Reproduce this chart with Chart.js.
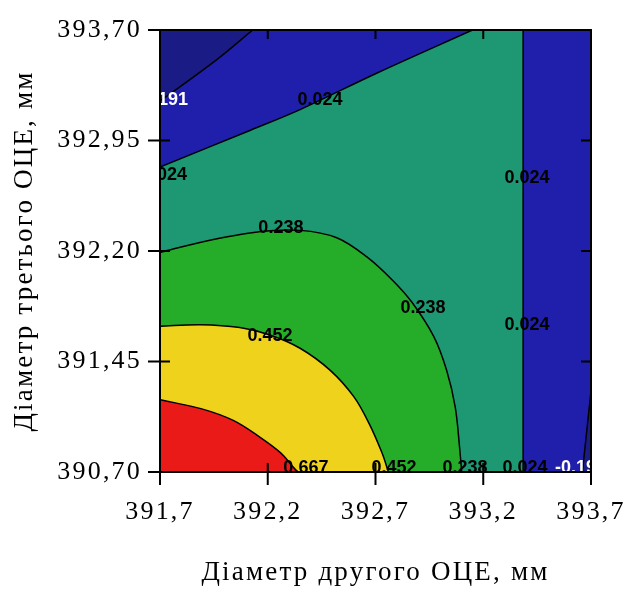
<!DOCTYPE html>
<html>
<head>
<meta charset="utf-8">
<title>Діаметр ОЦЕ</title>
<script src="https://cdn.jsdelivr.net/npm/chart.js@4.4.1/dist/chart.umd.min.js"></script>
<style>
    html, body { margin: 0; padding: 0; background: #fff; overflow: hidden; }
</style>
</head>
<body>
<canvas id="contourChart" width="637" height="592"></canvas>
<script>
const xTickValues = [391.7, 392.2, 392.7, 393.2, 393.7];
const xTickLabels = ["391,7", "392,2", "392,7", "393,2", "393,7"];
const yTickValues = [390.70, 391.45, 392.20, 392.95, 393.70];
const yTickLabels = ["390,70", "391,45", "392,20", "392,95", "393,70"];

// contour lines, [x, y] in mm
const lineM0191Top = [[391.70, 393.22], [391.76, 393.28], [391.965, 393.50], [392.13, 393.70]];
const line0024Top = [[391.70, 392.77], [392.12, 393.02], [392.35, 393.16], [392.71, 393.41], [393.15, 393.70]];
const line0024Right = [[393.385, 390.70], [393.385, 393.70], [393.70, 393.70]];
const lineM0191Corner = [[393.66, 390.70], [393.70, 391.25]];
const line0238 = [[391.70, 392.19], [391.89, 392.26], [392.16, 392.33], [392.35, 392.34], [392.52, 392.29],
    [392.66, 392.16], [392.78, 392.00], [392.87, 391.85], [392.97, 391.62], [393.03, 391.39],
    [393.07, 391.14], [393.09, 390.87], [393.10, 390.70]];
const line0452 = [[391.70, 391.69], [391.89, 391.70], [392.07, 391.68], [392.21, 391.63], [392.35, 391.54],
    [392.49, 391.39], [392.60, 391.21], [392.67, 391.03], [392.73, 390.83], [392.76, 390.70]];
const line0667 = [[391.70, 391.19], [391.89, 391.13], [392.04, 391.05], [392.16, 390.94],
    [392.26, 390.83], [392.32, 390.73], [392.34, 390.70]];

// level labels: text, x, y
const contourLabels = [
    ["-0.191", 391.712, 393.225],
    ["0.024", 392.442, 393.225],
    ["0.024", 391.721, 392.716],
    ["0.024", 393.403, 392.696],
    ["0.238", 392.261, 392.356],
    ["0.238", 392.920, 391.813],
    ["0.452", 392.210, 391.623],
    ["0.024", 393.403, 391.698],
    ["0.667", 392.377, 390.730],
    ["0.452", 392.786, 390.730],
    ["0.238", 393.115, 390.730],
    ["0.024", 393.394, 390.730],
    ["-0.191", 393.651, 390.730]
];

const colors = {
    dark: "#1b1b86",
    blue: "#1f1fab",
    teal: "#1d9872",
    green: "#25ad2a",
    yellow: "#efd21c",
    red: "#ea1a18"
};

function region(points, color, fill, order, tension = 0.35) {
    return {
        data: points.map(p => ({ x: p[0], y: p[1] })),
        backgroundColor: color,
        borderColor: "#000",
        borderWidth: 1.5,
        pointRadius: 0,
        fill: fill,
        order: order,
        tension: tension
    };
}

const serif = "'Liberation Serif', 'Times New Roman', serif";

const plotBackground = {
    id: "plotBackground",
    beforeDraw(chart) {
        chart.ctx.letterSpacing = "2.2px";
    },
    beforeDatasetsDraw(chart) {
        const { ctx, chartArea } = chart;
        ctx.save();
        ctx.fillStyle = colors.teal;
        ctx.fillRect(chartArea.left, chartArea.top, chartArea.width, chartArea.height);
        ctx.restore();
    }
};

const frameAndLabels = {
    id: "frameAndLabels",
    afterDatasetsDraw(chart) {
        const { ctx, chartArea, scales } = chart;
        const { left, right, top, bottom } = chartArea;

        // contour level labels
        ctx.save();
        ctx.beginPath();
        ctx.rect(left, top, right - left, bottom - top);
        ctx.clip();
        ctx.letterSpacing = "0px";
        ctx.font = "bold 18px 'Liberation Sans', Arial, sans-serif";
        ctx.textAlign = "center";
        ctx.textBaseline = "middle";
        contourLabels.forEach(([text, x, y]) => {
            ctx.fillStyle = text.startsWith("-") ? "#fff" : "#000";
            ctx.fillText(text, scales.x.getPixelForValue(x), scales.y.getPixelForValue(y));
        });
        ctx.restore();

        // frame with ticks on all four sides
        ctx.save();
        ctx.strokeStyle = "#000";
        ctx.lineWidth = 2;
        ctx.strokeRect(left, top, right - left, bottom - top);
        ctx.beginPath();
        xTickValues.forEach(v => {
            const px = scales.x.getPixelForValue(v);
            ctx.moveTo(px, bottom - 9);
            ctx.lineTo(px, bottom + 13);
            ctx.moveTo(px, top);
            ctx.lineTo(px, top + 9);
        });
        yTickValues.forEach(v => {
            const py = scales.y.getPixelForValue(v);
            ctx.moveTo(left - 12, py);
            ctx.lineTo(left + 10, py);
            ctx.moveTo(right - 10, py);
            ctx.lineTo(right, py);
        });
        ctx.stroke();
        ctx.restore();
    }
};

new Chart(document.getElementById("contourChart"), {
    type: "line",
    data: {
        datasets: [
            region(line0667, colors.red, "start", 0),
            region(line0452, colors.yellow, "start", 1),
            region(line0238, colors.green, "start", 2),
            region(lineM0191Top, colors.dark, "end", 3),
            region(line0024Top, colors.blue, "end", 4),
            region(lineM0191Corner, colors.dark, "start", 5, 0),
            region(line0024Right, colors.blue, "start", 6, 0)
        ]
    },
    options: {
        responsive: false,
        animation: false,
        layout: { padding: { top: 30, right: 46, bottom: 0, left: 0 } },
        plugins: {
            legend: { display: false },
            tooltip: { enabled: false }
        },
        scales: {
            x: {
                type: "linear",
                min: 391.7,
                max: 393.7,
                afterBuildTicks: scale => { scale.ticks = xTickValues.map(v => ({ value: v })); },
                afterFit: scale => {
                    scale.height = 120;
                    scale.paddingLeft = 0;
                    scale.paddingRight = 0;
                },
                ticks: {
                    callback: (value, index) => xTickLabels[index],
                    font: { family: serif, size: 26 },
                    color: "#000",
                    padding: 25,
                    maxRotation: 0,
                    autoSkip: false
                },
                grid: { display: false, drawTicks: false },
                border: { display: false },
                title: {
                    display: true,
                    text: "Діаметр другого ОЦЕ, мм",
                    font: { family: serif, size: 27 },
                    color: "#000",
                    padding: { top: 0, bottom: 3 }
                }
            },
            y: {
                type: "linear",
                min: 390.7,
                max: 393.7,
                afterBuildTicks: scale => { scale.ticks = yTickValues.map(v => ({ value: v })); },
                afterFit: scale => {
                    scale.width = 160;
                    scale.paddingTop = 0;
                    scale.paddingBottom = 0;
                },
                ticks: {
                    callback: (value, index) => yTickLabels[index],
                    font: { family: serif, size: 26 },
                    color: "#000",
                    padding: 18,
                    autoSkip: false
                },
                grid: { display: false, drawTicks: false },
                border: { display: false },
                title: {
                    display: true,
                    text: "Діаметр третього ОЦЕ, мм",
                    font: { family: serif, size: 27 },
                    color: "#000",
                    padding: { top: 9, bottom: 0 }
                }
            }
        }
    },
    plugins: [plotBackground, frameAndLabels]
});
</script>
</body>
</html>
